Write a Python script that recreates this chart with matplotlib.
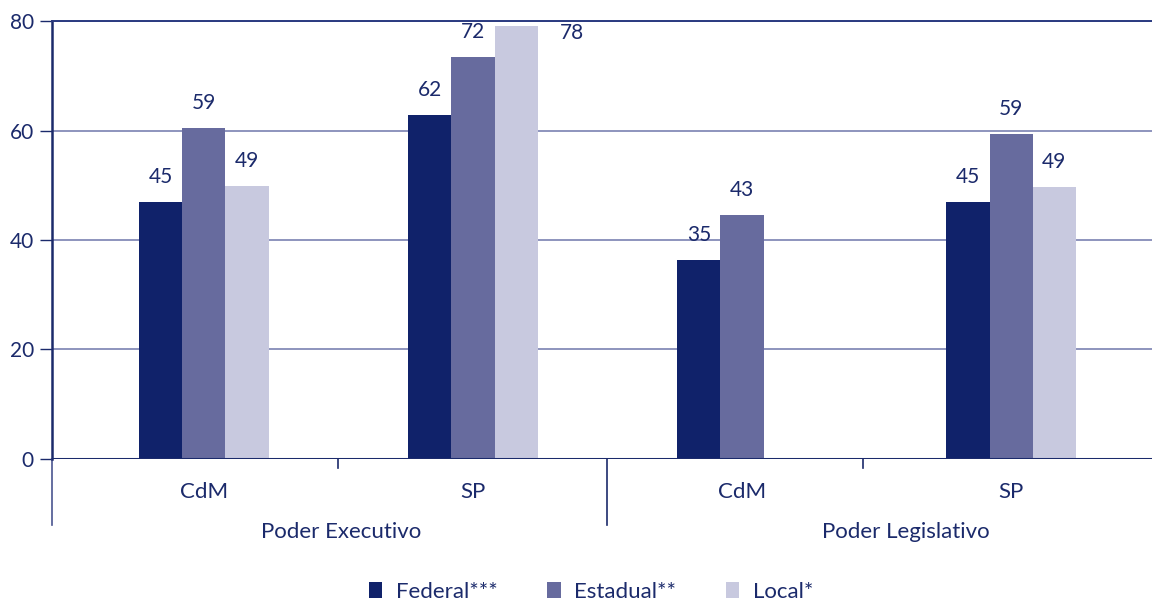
import numpy as np
import matplotlib
matplotlib.use("Agg")
import matplotlib.pyplot as plt
from matplotlib.patches import Patch

# data
categories = ["CdM", "SP", "CdM", "SP"]
groups = ["Poder Executivo", "Poder Legislativo"]
series = ["Federal***", "Estadual**", "Local*"]
federal = [47.0, 62.8, 36.3, 47.0]
estadual = [60.4, 73.4, 44.5, 59.3]
local = [49.8, 79.1, np.nan, 49.6]
federal_lbl = ["45", "62", "35", "45"]
estadual_lbl = ["59", "72", "43", "59"]
local_lbl = ["49", "78", "", "49"]
yticks = [0, 20, 40, 60, 80]

navy = "#1b2a6b"
colors = ["#10226a", "#676b9e", "#c8c9df"]
plt.rcParams['font.family'] = ['Lato', 'DejaVu Sans']

fig = plt.figure(figsize=(11.52, 6.01), dpi=100)
ax = fig.add_axes([0.0451, 0.2363, 0.9549, 0.7287])

x = np.arange(len(categories))
w = 0.16
vals = [federal, estadual, local]
lbls = [federal_lbl, estadual_lbl, local_lbl]
for i, (v, l, c) in enumerate(zip(vals, lbls, colors)):
    xs = x + (i - 1) * w
    ax.bar(xs, v, width=w, color=c, zorder=3, label=series[i])
    for xi, vi, li in zip(xs, v, l):
        if not li:
            continue
        if vi > 76:
            # no room above the tallest bar, label goes to the right
            ax.annotate(li, (xi + w / 2, vi), xytext=(34, -7), textcoords="offset pixels",
                        ha="center", va="center", color=navy, fontsize=15)
        else:
            ax.annotate(li, (xi, vi), xytext=(0, 25), textcoords="offset pixels",
                        ha="center", va="center", color=navy, fontsize=15)

ax.set_xlim(-0.565, 3.524)
ax.set_ylim(0, 80)
ax.set_yticks(yticks)
ax.set_yticklabels([str(t) for t in yticks])
ax.yaxis.grid(True, color="#7a82b2", lw=1.2, zorder=0)
ax.set_axisbelow(True)
ax.tick_params(axis="y", length=9, width=1, color=navy, labelcolor=navy, labelsize=15, pad=4)
ax.set_xticks([])
for s in ["right", "bottom"]:
    ax.spines[s].set_visible(False)
ax.spines["left"].set_color(navy)
ax.spines["left"].set_linewidth(1.8)
ax.spines["top"].set_color("#2a3a80")
ax.spines["top"].set_linewidth(1.4)
ax.axhline(0, color=navy, lw=2.2, zorder=4)

trans = ax.get_xaxis_transform()
# left spine continues below the zero line
ax.plot([-0.565, -0.565], [0, -0.15], transform=trans, color="#4a5590", lw=1.2, clip_on=False)
# separators below the axis
ax.plot([1.5, 1.5], [0, -0.15], transform=trans, color=navy, lw=1.2, clip_on=False)
for sx in [0.5, 2.45]:
    ax.plot([sx, sx], [0, -0.02], transform=trans, color=navy, lw=1.2, clip_on=False)

for xi, c in zip(x, categories):
    ax.text(xi, -0.075, c, transform=trans, ha="center", va="center", color=navy, fontsize=16)
for gx, g in zip([0.51, 2.61], groups):
    ax.text(gx, -0.167, g, transform=trans, ha="center", va="center", color=navy, fontsize=16)

handles = [Patch(facecolor=c, edgecolor="none") for c in colors]
fig.legend(handles, series, loc="lower center", bbox_to_anchor=(0.513, -0.035), ncol=3,
           frameon=False, fontsize=16, labelcolor=navy, handlelength=0.6, handleheight=0.75,
           handletextpad=0.6, columnspacing=2.25)

fig.savefig("out.png", dpi=100)
